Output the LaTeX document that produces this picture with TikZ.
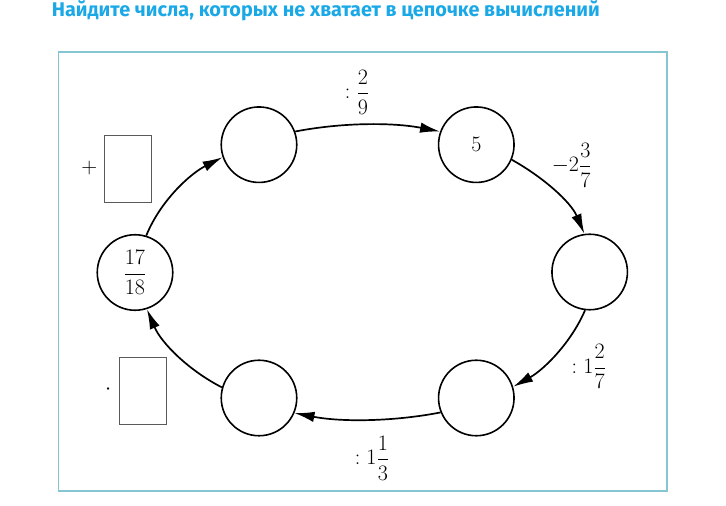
\RequirePackage{fix-cm}
\documentclass[tikz,border=0pt]{standalone}
\usepackage{amsmath}
\usepackage{fontspec}
\usepackage{graphicx}
\newfontfamily\titlefont{Fira Sans}
\usetikzlibrary{arrows.meta}
\definecolor{titleblue}{RGB}{26,168,230}
\definecolor{framecol}{RGB}{134,197,210}
\definecolor{boxgray}{RGB}{90,90,90}
\tikzset{
  x=1pt, y=1pt,
  numcirc/.style={circle, draw, line width=1.6pt, minimum size=75.5pt, inner sep=0pt, font=\fontsize{22}{26}\selectfont},
  oplabel/.style={inner sep=0pt, font=\fontsize{22}{26}\selectfont},
  answerbox/.style={draw=boxgray, line width=1pt, inner sep=0pt},
  flow/.style={line width=1.7pt, -{Latex[length=20pt,width=10.5pt]}},
}
\begin{document}
\begin{tikzpicture}
\useasboundingbox (0,0) rectangle (726,506);
% title
\node[anchor=base west, inner sep=0pt, text=titleblue] (title) at (51.7,489)
  {\resizebox{548pt}{!}{\titlefont\bfseries Найдите числа, которых не хватает в цепочке вычислений}};
% frame
\draw[framecol, line width=1.5pt] (58.5,15) rectangle (667,454);
% circles
\node[numcirc] (A) at (135,233.5) {$\dfrac{17}{18}$};
\node[numcirc] (B) at (259,361.3) {};
\node[numcirc] (C) at (476.3,361.3) {$5$};
\node[numcirc] (D) at (589.7,234) {};
\node[numcirc] (E) at (476.3,108) {};
\node[numcirc] (F) at (259,108) {};
% connectors
\draw[flow] (A.73) .. controls +(68:37) and +(207:37) .. (B.199);
\draw[flow] (B.20) .. controls +(11:48) and +(169:48) .. (C.160);
\draw[flow] (C.-23) .. controls +(-29:35) and +(113:35) .. (D.98);
\draw[flow] (D.263) .. controls +(247:35) and +(29:35) .. (E.17);
\draw[flow] (E.202) .. controls +(191:48) and +(-11:48) .. (F.337);
\draw[flow] (F.164) .. controls +(153:37) and +(293:37) .. (A.288);
% operation labels
\node[oplabel] (l1) at (357,414) {$:\dfrac{2}{9}$};
\node[oplabel] (l2) at (571.7,341) {$-2\dfrac{3}{7}$};
\node[oplabel] (l3) at (588.8,139.3) {$:1\dfrac{2}{7}$};
\node[oplabel] (l4) at (372,48) {$:1\dfrac{1}{3}$};
% answer boxes
\node[answerbox, minimum width=46.7pt, minimum height=67pt] (box1) at (127.7,337.2) {};
\node[answerbox, minimum width=47.4pt, minimum height=66.7pt] (box2) at (143,115.3) {};
\node[oplabel] (plus) at (89.3,338) {$+$};
\node[oplabel] (dot) at (108.3,116) {$\cdot$};
\end{tikzpicture}
\end{document}
